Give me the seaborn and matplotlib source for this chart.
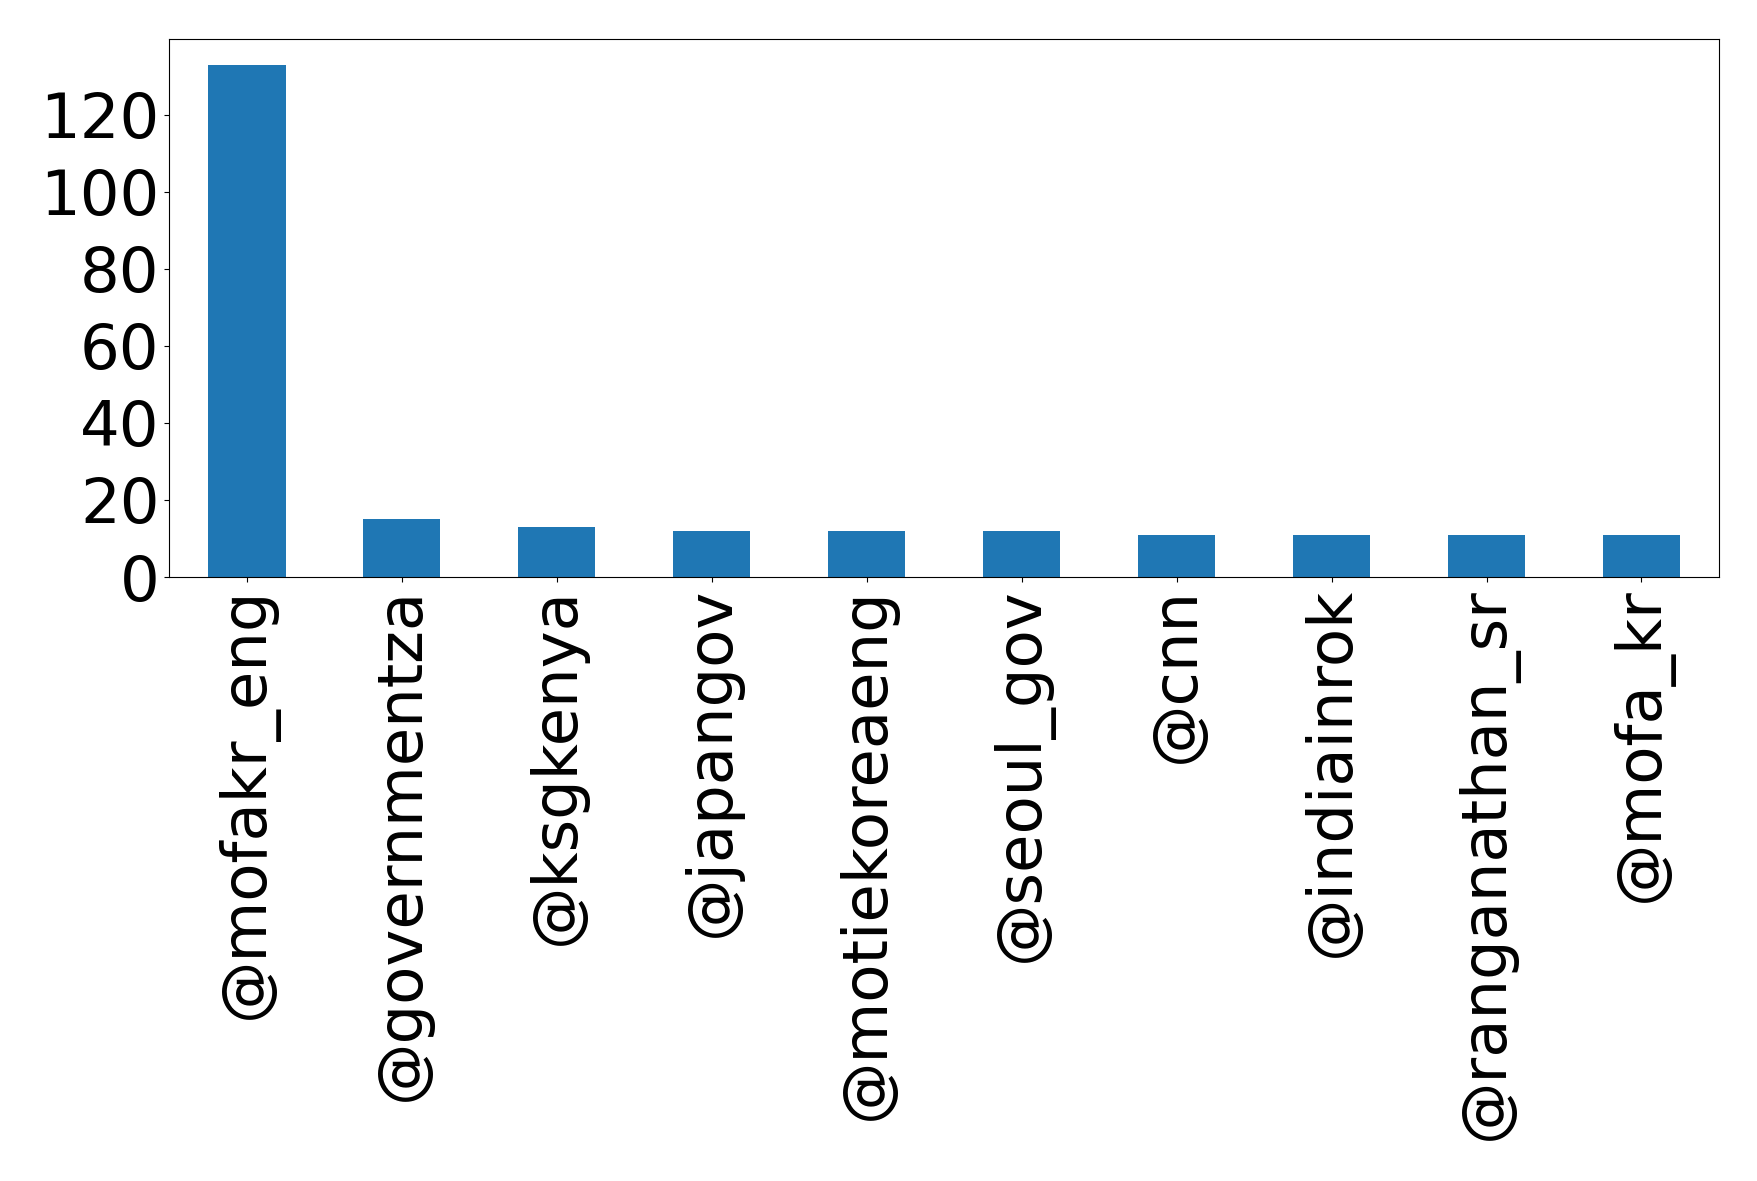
import matplotlib
matplotlib.use("Agg")
import matplotlib.pyplot as plt
import seaborn as sns
import pandas as pd

accounts = ["@mofakr_eng", "@governmentza", "@ksgkenya", "@japangov", "@motiekoreaeng",
            "@seoul_gov", "@cnn", "@indiainrok", "@ranganathan_sr", "@mofa_kr"]
counts = [133, 15, 13, 12, 12, 12, 11, 11, 11, 11]

df = pd.DataFrame({"account": accounts, "count": counts})

plt.rcParams['font.family'] = ['DejaVu Sans']
fig = plt.figure(figsize=(17.58, 11.81), dpi=100)
ax = fig.add_axes([0.0963, 0.5114, 0.8815, 0.4556])
sns.barplot(data=df, x="account", y="count", color="#1f77b4", saturation=1,
            width=0.5, ax=ax)
ax.set_xlim(-0.5, len(accounts) - 0.5)
ax.set_ylim(0, 139.65)
ax.set_yticks([0, 20, 40, 60, 80, 100, 120])
ax.set_xlabel("")
ax.set_ylabel("")
ax.tick_params(axis="both", labelsize=45)
ax.tick_params(axis="x", labelrotation=90)
fig.savefig("out.png", dpi=100)
